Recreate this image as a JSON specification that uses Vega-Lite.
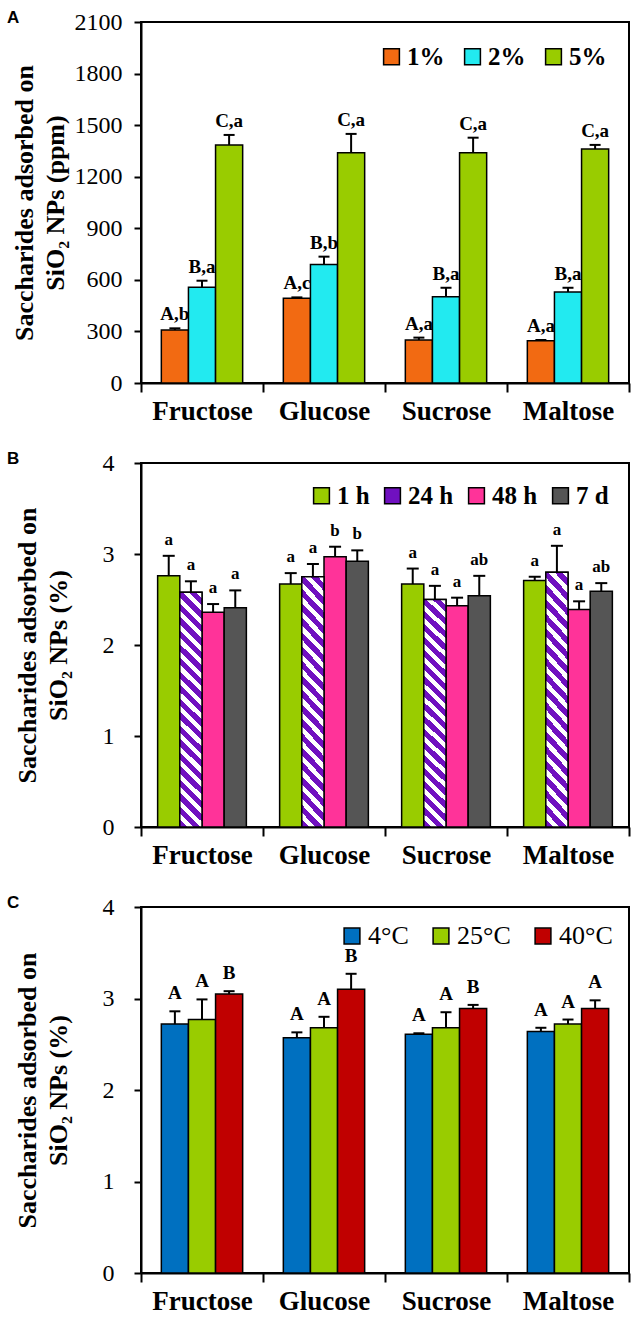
{
  "$schema": "https://vega.github.io/schema/vega-lite/v6.json",
  "padding": {"left": 6, "top": 8, "right": 5, "bottom": 5},
  "background": "white",
  "datasets": {
    "a": [
      {"sugar": "Fructose", "series": "1%", "value": 308, "upper": 318, "label": "A,b"},
      {"sugar": "Fructose", "series": "2%", "value": 557, "upper": 595, "label": "B,a"},
      {"sugar": "Fructose", "series": "5%", "value": 1385, "upper": 1443, "label": "C,a"},
      {"sugar": "Glucose", "series": "1%", "value": 493, "upper": 498, "label": "A,c"},
      {"sugar": "Glucose", "series": "2%", "value": 690, "upper": 735, "label": "B,b"},
      {"sugar": "Glucose", "series": "5%", "value": 1340, "upper": 1449, "label": "C,a"},
      {"sugar": "Sucrose", "series": "1%", "value": 250, "upper": 264, "label": "A,a"},
      {"sugar": "Sucrose", "series": "2%", "value": 502, "upper": 554, "label": "B,a"},
      {"sugar": "Sucrose", "series": "5%", "value": 1340, "upper": 1427, "label": "C,a"},
      {"sugar": "Maltose", "series": "1%", "value": 246, "upper": 250, "label": "A,a"},
      {"sugar": "Maltose", "series": "2%", "value": 529, "upper": 554, "label": "B,a"},
      {"sugar": "Maltose", "series": "5%", "value": 1361, "upper": 1385, "label": "C,a"}
    ],
    "b": [
      {"sugar": "Fructose", "series": "1 h", "value": 2.76, "upper": 2.98, "label": "a"},
      {"sugar": "Fructose", "series": "24 h", "value": 2.58, "upper": 2.70, "label": "a"},
      {"sugar": "Fructose", "series": "48 h", "value": 2.36, "upper": 2.45, "label": "a"},
      {"sugar": "Fructose", "series": "7 d", "value": 2.41, "upper": 2.60, "label": "a"},
      {"sugar": "Glucose", "series": "1 h", "value": 2.67, "upper": 2.79, "label": "a"},
      {"sugar": "Glucose", "series": "24 h", "value": 2.75, "upper": 2.89, "label": "a"},
      {"sugar": "Glucose", "series": "48 h", "value": 2.97, "upper": 3.08, "label": "b"},
      {"sugar": "Glucose", "series": "7 d", "value": 2.92, "upper": 3.04, "label": "b"},
      {"sugar": "Sucrose", "series": "1 h", "value": 2.67, "upper": 2.84, "label": "a"},
      {"sugar": "Sucrose", "series": "24 h", "value": 2.50, "upper": 2.65, "label": "a"},
      {"sugar": "Sucrose", "series": "48 h", "value": 2.43, "upper": 2.52, "label": "a"},
      {"sugar": "Sucrose", "series": "7 d", "value": 2.54, "upper": 2.76, "label": "ab"},
      {"sugar": "Maltose", "series": "1 h", "value": 2.71, "upper": 2.75, "label": "a"},
      {"sugar": "Maltose", "series": "24 h", "value": 2.80, "upper": 3.09, "label": "a"},
      {"sugar": "Maltose", "series": "48 h", "value": 2.39, "upper": 2.48, "label": "a"},
      {"sugar": "Maltose", "series": "7 d", "value": 2.59, "upper": 2.68, "label": "ab"}
    ],
    "c": [
      {"sugar": "Fructose", "series": "4°C", "value": 2.72, "upper": 2.86, "label": "A"},
      {"sugar": "Fructose", "series": "25°C", "value": 2.77, "upper": 2.99, "label": "A"},
      {"sugar": "Fructose", "series": "40°C", "value": 3.05, "upper": 3.08, "label": "B"},
      {"sugar": "Glucose", "series": "4°C", "value": 2.57, "upper": 2.63, "label": "A"},
      {"sugar": "Glucose", "series": "25°C", "value": 2.68, "upper": 2.80, "label": "A"},
      {"sugar": "Glucose", "series": "40°C", "value": 3.10, "upper": 3.27, "label": "B"},
      {"sugar": "Sucrose", "series": "4°C", "value": 2.61, "upper": 2.62, "label": "A"},
      {"sugar": "Sucrose", "series": "25°C", "value": 2.68, "upper": 2.85, "label": "A"},
      {"sugar": "Sucrose", "series": "40°C", "value": 2.89, "upper": 2.93, "label": "B"},
      {"sugar": "Maltose", "series": "4°C", "value": 2.64, "upper": 2.68, "label": "A"},
      {"sugar": "Maltose", "series": "25°C", "value": 2.72, "upper": 2.77, "label": "A"},
      {"sugar": "Maltose", "series": "40°C", "value": 2.89, "upper": 2.98, "label": "A"}
    ]
  },
  "resolve": {
    "scale": {"color": "independent", "xOffset": "independent", "x": "independent", "y": "independent"},
    "legend": {"color": "independent"}
  },
  "vconcat": [
    {
      "title": {"text": "A"},
      "width": 488,
      "height": 361,
      "data": {"name": "a"},
      "encoding": {
        "x": {"field": "sugar", "type": "nominal", "sort": ["Fructose", "Glucose", "Sucrose", "Maltose"], "scale": {"paddingInner": 0, "paddingOuter": 0}, "axis": {"title": null}},
        "xOffset": {"field": "series", "type": "nominal", "sort": ["1%", "2%", "5%"], "scale": {"paddingInner": 0, "paddingOuter": 0.75}}
      },
      "layer": [
        {
          "mark": {"type": "bar", "stroke": "black", "strokeWidth": 1.5, "opacity": 1},
          "encoding": {
            "y": {"field": "value", "type": "quantitative", "title": ["Saccharides adsorbed on", "SiO₂ NPs (ppm)"], "scale": {"domain": [0, 2100], "nice": false}, "axis": {"values": [0, 300, 600, 900, 1200, 1500, 1800, 2100], "format": "d"}},
            "color": {
              "field": "series", "type": "nominal",
              "scale": {"domain": ["1%", "2%", "5%"], "range": ["#F26A12", "#22EAF0", "#99CC00"]},
              "legend": {"title": null, "orient": "top-right", "direction": "horizontal", "offset": 22, "symbolType": "square", "symbolSize": 250, "symbolStrokeColor": "black", "symbolStrokeWidth": 1.5, "symbolOpacity": 1, "labelFontSize": 25, "labelFontWeight": "bold", "labelFont": "Liberation Serif", "labelColor": "black", "columnPadding": 15, "labelOffset": 3}
            }
          }
        },
        {
          "mark": {"type": "rule", "strokeWidth": 2, "color": "black"},
          "encoding": {
            "y": {"field": "value", "type": "quantitative", "title": ["Saccharides adsorbed on", "SiO₂ NPs (ppm)"]},
            "y2": {"field": "upper"}
          }
        },
        {
          "mark": {"type": "tick", "thickness": 2, "size": 11, "color": "black", "opacity": 1},
          "encoding": {
            "y": {"field": "upper", "type": "quantitative", "title": ["Saccharides adsorbed on", "SiO₂ NPs (ppm)"]}
          }
        },
        {
          "mark": {"type": "text", "baseline": "bottom", "dy": -4, "fontSize": 19, "fontWeight": "bold", "font": "Liberation Serif", "color": "black"},
          "encoding": {
            "y": {"field": "upper", "type": "quantitative", "title": ["Saccharides adsorbed on", "SiO₂ NPs (ppm)"]},
            "text": {"field": "label"}
          }
        }
      ]
    },
    {
      "title": {"text": "B"},
      "width": 488,
      "height": 364,
      "data": {"name": "b"},
      "encoding": {
        "x": {"field": "sugar", "type": "nominal", "sort": ["Fructose", "Glucose", "Sucrose", "Maltose"], "scale": {"paddingInner": 0, "paddingOuter": 0}, "axis": {"title": null}},
        "xOffset": {"field": "series", "type": "nominal", "sort": ["1 h", "24 h", "48 h", "7 d"], "scale": {"paddingInner": 0, "paddingOuter": 0.75}}
      },
      "layer": [
        {
          "mark": {"type": "bar", "stroke": "black", "strokeWidth": 1.5, "opacity": 1},
          "encoding": {
            "y": {"field": "value", "type": "quantitative", "title": ["Saccharides adsorbed on", "SiO₂ NPs (%)"], "scale": {"domain": [0, 4], "nice": false}, "axis": {"values": [0, 1, 2, 3, 4], "format": "d", "labelPadding": 20, "titlePadding": 31}},
            "color": {
              "field": "series", "type": "nominal",
              "scale": {"domain": ["1 h", "24 h", "48 h", "7 d"], "range": ["#99CC00", "#7010C0", "#FF3399", "#555555"]},
              "legend": {"title": null, "orient": "top-right", "direction": "horizontal", "offset": 20, "symbolType": "square", "symbolSize": 250, "symbolStrokeColor": "black", "symbolStrokeWidth": 1.5, "symbolOpacity": 1, "labelFontSize": 25, "labelFontWeight": "bold", "labelFont": "Liberation Serif", "labelColor": "black", "columnPadding": 10, "labelOffset": 3}
            }
          }
        },
        {
          "transform": [{"filter": "datum.series === '24 h'"}],
          "mark": {
            "type": "bar", "stroke": "black", "strokeWidth": 1.5, "opacity": 1,
            "fill": {
              "gradient": "linear", "x1": 0, "y1": 1, "x2": 0.1017, "y2": -0.0843,
              "stops": [
                {"offset": 0, "color": "#7010C0"}, {"offset": 0.02895, "color": "#7010C0"}, {"offset": 0.02895, "color": "#ffffff"}, {"offset": 0.05263, "color": "#ffffff"},
                {"offset": 0.05263, "color": "#7010C0"}, {"offset": 0.08158, "color": "#7010C0"}, {"offset": 0.08158, "color": "#ffffff"}, {"offset": 0.10526, "color": "#ffffff"},
                {"offset": 0.10526, "color": "#7010C0"}, {"offset": 0.13421, "color": "#7010C0"}, {"offset": 0.13421, "color": "#ffffff"}, {"offset": 0.15789, "color": "#ffffff"},
                {"offset": 0.15789, "color": "#7010C0"}, {"offset": 0.18684, "color": "#7010C0"}, {"offset": 0.18684, "color": "#ffffff"}, {"offset": 0.21053, "color": "#ffffff"},
                {"offset": 0.21053, "color": "#7010C0"}, {"offset": 0.23947, "color": "#7010C0"}, {"offset": 0.23947, "color": "#ffffff"}, {"offset": 0.26316, "color": "#ffffff"},
                {"offset": 0.26316, "color": "#7010C0"}, {"offset": 0.29211, "color": "#7010C0"}, {"offset": 0.29211, "color": "#ffffff"}, {"offset": 0.31579, "color": "#ffffff"},
                {"offset": 0.31579, "color": "#7010C0"}, {"offset": 0.34474, "color": "#7010C0"}, {"offset": 0.34474, "color": "#ffffff"}, {"offset": 0.36842, "color": "#ffffff"},
                {"offset": 0.36842, "color": "#7010C0"}, {"offset": 0.39737, "color": "#7010C0"}, {"offset": 0.39737, "color": "#ffffff"}, {"offset": 0.42105, "color": "#ffffff"},
                {"offset": 0.42105, "color": "#7010C0"}, {"offset": 0.45, "color": "#7010C0"}, {"offset": 0.45, "color": "#ffffff"}, {"offset": 0.47368, "color": "#ffffff"},
                {"offset": 0.47368, "color": "#7010C0"}, {"offset": 0.50263, "color": "#7010C0"}, {"offset": 0.50263, "color": "#ffffff"}, {"offset": 0.52632, "color": "#ffffff"},
                {"offset": 0.52632, "color": "#7010C0"}, {"offset": 0.55526, "color": "#7010C0"}, {"offset": 0.55526, "color": "#ffffff"}, {"offset": 0.57895, "color": "#ffffff"},
                {"offset": 0.57895, "color": "#7010C0"}, {"offset": 0.60789, "color": "#7010C0"}, {"offset": 0.60789, "color": "#ffffff"}, {"offset": 0.63158, "color": "#ffffff"},
                {"offset": 0.63158, "color": "#7010C0"}, {"offset": 0.66053, "color": "#7010C0"}, {"offset": 0.66053, "color": "#ffffff"}, {"offset": 0.68421, "color": "#ffffff"},
                {"offset": 0.68421, "color": "#7010C0"}, {"offset": 0.71316, "color": "#7010C0"}, {"offset": 0.71316, "color": "#ffffff"}, {"offset": 0.73684, "color": "#ffffff"},
                {"offset": 0.73684, "color": "#7010C0"}, {"offset": 0.76579, "color": "#7010C0"}, {"offset": 0.76579, "color": "#ffffff"}, {"offset": 0.78947, "color": "#ffffff"},
                {"offset": 0.78947, "color": "#7010C0"}, {"offset": 0.81842, "color": "#7010C0"}, {"offset": 0.81842, "color": "#ffffff"}, {"offset": 0.84211, "color": "#ffffff"},
                {"offset": 0.84211, "color": "#7010C0"}, {"offset": 0.87105, "color": "#7010C0"}, {"offset": 0.87105, "color": "#ffffff"}, {"offset": 0.89474, "color": "#ffffff"},
                {"offset": 0.89474, "color": "#7010C0"}, {"offset": 0.92368, "color": "#7010C0"}, {"offset": 0.92368, "color": "#ffffff"}, {"offset": 0.94737, "color": "#ffffff"},
                {"offset": 0.94737, "color": "#7010C0"}, {"offset": 0.97632, "color": "#7010C0"}, {"offset": 0.97632, "color": "#ffffff"}, {"offset": 1, "color": "#ffffff"}
              ]
            }
          },
          "encoding": {
            "y": {"field": "value", "type": "quantitative", "title": ["Saccharides adsorbed on", "SiO₂ NPs (%)"]}
          }
        },
        {
          "mark": {"type": "rule", "strokeWidth": 2, "color": "black"},
          "encoding": {
            "y": {"field": "value", "type": "quantitative", "title": ["Saccharides adsorbed on", "SiO₂ NPs (%)"]},
            "y2": {"field": "upper"}
          }
        },
        {
          "mark": {"type": "tick", "thickness": 2, "size": 12, "color": "black", "opacity": 1},
          "encoding": {
            "y": {"field": "upper", "type": "quantitative", "title": ["Saccharides adsorbed on", "SiO₂ NPs (%)"]}
          }
        },
        {
          "mark": {"type": "text", "baseline": "bottom", "dy": -7, "fontSize": 17, "fontWeight": "bold", "font": "Liberation Serif", "color": "black"},
          "encoding": {
            "y": {"field": "upper", "type": "quantitative", "title": ["Saccharides adsorbed on", "SiO₂ NPs (%)"]},
            "text": {"field": "label"}
          }
        }
      ]
    },
    {
      "title": {"text": "C"},
      "width": 488,
      "height": 366,
      "data": {"name": "c"},
      "encoding": {
        "x": {"field": "sugar", "type": "nominal", "sort": ["Fructose", "Glucose", "Sucrose", "Maltose"], "scale": {"paddingInner": 0, "paddingOuter": 0}, "axis": {"title": null}},
        "xOffset": {"field": "series", "type": "nominal", "sort": ["4°C", "25°C", "40°C"], "scale": {"paddingInner": 0, "paddingOuter": 0.75}}
      },
      "layer": [
        {
          "mark": {"type": "bar", "stroke": "black", "strokeWidth": 1.5, "opacity": 1},
          "encoding": {
            "y": {"field": "value", "type": "quantitative", "title": ["Saccharides adsorbed on", "SiO₂ NPs (%)"], "scale": {"domain": [0, 4], "nice": false}, "axis": {"values": [0, 1, 2, 3, 4], "format": "d", "labelPadding": 20, "titlePadding": 31}},
            "color": {
              "field": "series", "type": "nominal",
              "scale": {"domain": ["4°C", "25°C", "40°C"], "range": ["#0070C0", "#99CC00", "#C00000"]},
              "legend": {"title": null, "orient": "top-right", "direction": "horizontal", "offset": 16, "symbolType": "square", "symbolSize": 250, "symbolStrokeColor": "black", "symbolStrokeWidth": 1.5, "symbolOpacity": 1, "labelFontSize": 26, "labelFontWeight": "normal", "labelFont": "Liberation Serif", "labelColor": "black", "columnPadding": 19, "labelOffset": 3}
            }
          }
        },
        {
          "mark": {"type": "rule", "strokeWidth": 2, "color": "black"},
          "encoding": {
            "y": {"field": "value", "type": "quantitative", "title": ["Saccharides adsorbed on", "SiO₂ NPs (%)"]},
            "y2": {"field": "upper"}
          }
        },
        {
          "mark": {"type": "tick", "thickness": 2, "size": 11, "color": "black", "opacity": 1},
          "encoding": {
            "y": {"field": "upper", "type": "quantitative", "title": ["Saccharides adsorbed on", "SiO₂ NPs (%)"]}
          }
        },
        {
          "mark": {"type": "text", "baseline": "bottom", "dy": -8, "fontSize": 19, "fontWeight": "bold", "font": "Liberation Serif", "color": "black"},
          "encoding": {
            "y": {"field": "upper", "type": "quantitative", "title": ["Saccharides adsorbed on", "SiO₂ NPs (%)"]},
            "text": {"field": "label"}
          }
        }
      ]
    }
  ],
  "config": {
    "font": "Liberation Serif",
    "view": {"stroke": "black", "strokeWidth": 2},
    "concat": {"spacing": 24},
    "axis": {"domainColor": "black", "domainWidth": 2, "tickColor": "black", "tickWidth": 2, "tickSize": 7, "labelColor": "black", "titleColor": "black", "grid": false, "labelFont": "Liberation Serif", "titleFont": "Liberation Serif"},
    "axisX": {"labelFontSize": 27, "labelFontWeight": "bold", "tickBand": "extent", "labelAngle": 0, "tickSize": 9, "labelPadding": 6},
    "axisY": {"labelFontSize": 24, "labelFontWeight": "normal", "titleFontSize": 26, "titleFontWeight": "bold", "titleLineHeight": 31, "labelPadding": 12, "titlePadding": 6},
    "title": {"font": "Liberation Sans", "fontSize": 17, "fontWeight": "bold", "anchor": "start", "frame": "group", "dx": -134, "offset": -17, "color": "black"}
  }
}
